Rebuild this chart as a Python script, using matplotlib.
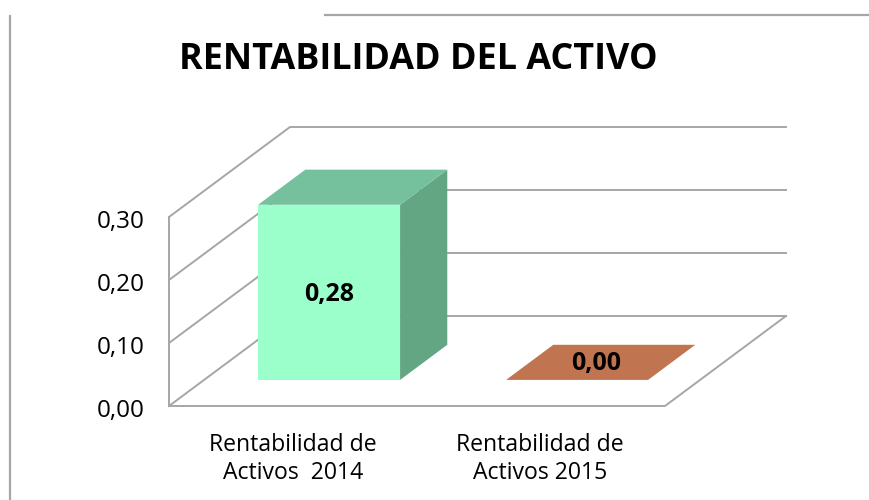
import matplotlib

matplotlib.use("Agg", force=True)

import matplotlib.pyplot as plt
from matplotlib.patches import Polygon

categories = ["Rentabilidad de\nActivos  2014", "Rentabilidad de\nActivos 2015"]
values = [0.278, 0.0]
value_labels = ["0,28", "0,00"]
y_ticks = [0.0, 0.1, 0.2, 0.3]
y_tick_labels = ["0,00", "0,10", "0,20", "0,30"]
title = "RENTABILIDAD DEL ACTIVO"

FONT = "Open Sans"
GRID = "#a6a6a6"
FRONT = ["#9bffcc", "#c0744f"]
TOP = ["#75c19d", "#c0744f"]
SIDE = "#63a683"

# one category is 248 px wide, 0.1 is 63 px high
PX_X = 248.0
PX_Y = 630.0
DEPTH_X = 121.0 / PX_X
DEPTH_Y = 90.0 / PX_Y
BAR_W = 142.0 / PX_X
BAR_SHIFT = 1.0 / PX_X
D0, D1 = 0.29, 0.68  # bar front and back, as share of the floor depth


def proj(x, y, d=0.0):
    return (x + d * DEPTH_X, y + d * DEPTH_Y)


def face(ax, pts, color, z=3):
    ax.add_patch(Polygon(pts, closed=True, fc=color, ec="none", zorder=z))


fig = plt.figure(figsize=(8.7, 5.0), dpi=100)
ax = fig.add_axes([0, 0, 1, 1])
x0 = -0.5 - 169.0 / PX_X
ax.set_xlim(x0, x0 + 870.0 / PX_X)
y0 = -(500.0 - 406.0) / PX_Y
ax.set_ylim(y0, y0 + 500.0 / PX_Y)
ax.axis("off")

left, right = -0.5, 1.5
lw = 1.4

# walls and floor
for t, lab in zip(y_ticks, y_tick_labels):
    a, b, c = proj(left, t), proj(left, t, 1), proj(right, t, 1)
    ax.plot([a[0], b[0], c[0]], [a[1], b[1], c[1]], color=GRID, lw=lw, zorder=1)
    ax.text(left - 24.0 / PX_X, t - 5.0 / PX_Y, lab, ha="right", va="center",
            fontsize=17.5, family=FONT, color="black")
ax.plot([left, left], [y_ticks[0], y_ticks[-1]], color=GRID, lw=lw, zorder=1)
p, q = proj(right, 0), proj(right, 0, 1)
ax.plot([left, right, q[0]], [0, 0, q[1]], color=GRID, lw=lw, zorder=1)

# bars
for i, v in enumerate(values):
    xa, xb = i - BAR_W / 2 + BAR_SHIFT, i + BAR_W / 2 + BAR_SHIFT
    if v > 0:
        face(ax, [proj(xa, 0, D0), proj(xb, 0, D0), proj(xb, v, D0), proj(xa, v, D0)], FRONT[i], 4)
        face(ax, [proj(xb, 0, D0), proj(xb, 0, D1), proj(xb, v, D1), proj(xb, v, D0)], SIDE, 3)
    face(ax, [proj(xa, v, D0), proj(xb, v, D0), proj(xb, v, D1), proj(xa, v, D1)], TOP[i], 3)
    if v > 0:
        lx, ly = proj(i, v / 2, D0)
        lx, ly = lx + 1.0 / PX_X, ly - 2.0 / PX_Y
    else:
        lx, ly = proj(i, 0, (D0 + D1) / 2)
        lx, ly = lx - 4.0 / PX_X, ly - 1.0 / PX_Y
    ax.text(lx, ly, value_labels[i], ha="center", va="center",
            fontsize=18, fontweight="bold", family=FONT, color="black", zorder=5)
    ax.text(i - (i * 1.0) / PX_X, y0 + 41.0 / PX_Y, categories[i], ha="center", va="center",
            fontsize=16.6, family=FONT, color="black", linespacing=1.24)

ax.text(x0 + 418.0 / PX_X, y0 + (500.0 - 60.0) / PX_Y, title, ha="center", va="center",
        fontsize=25.8, fontweight="bold", family=FONT, color="black")

# chart frame remains
ax.plot([x0 + 325.0 / PX_X, x0 + 872.0 / PX_X], [y0 + 485.0 / PX_Y] * 2, color=GRID, lw=1.6, zorder=1)
ax.plot([x0 + 10.0 / PX_X] * 2, [y0, y0 + 484.0 / PX_Y], color=GRID, lw=1.6, zorder=1)

fig.savefig("out.png", dpi=100)
